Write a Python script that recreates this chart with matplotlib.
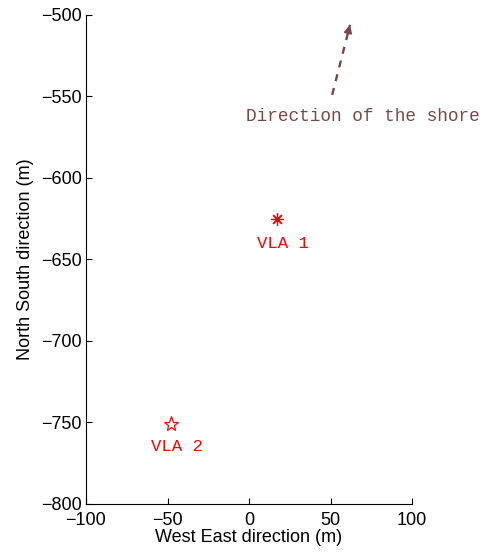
import numpy as np
import matplotlib.pyplot as plt

# positions of the two vertical line arrays (m)
vla_names = ['VLA 1', 'VLA 2']
vla_x = [17, -48]
vla_y = [-625, -751]

# shore direction arrow (start -> tip)
arrow_x = [51, 62]
arrow_y = [-549, -506]

xticks = [-100, -50, 0, 50, 100]
yticks = [-800, -750, -700, -650, -600, -550, -500]

plt.rcParams['font.family'] = ['Liberation Sans', 'DejaVu Sans']

fig = plt.figure(figsize=(4.85, 5.52), dpi=100)
ax = fig.add_axes([86/485, 1 - 504/552, (412-86)/485, (504-15)/552])

red = '#ff0000'
brown = '#7a4646'

ax.plot(vla_x[0], vla_y[0], linestyle='none', marker=(8, 2, 0), markersize=9,
        color=red, markeredgewidth=0.9)
ax.plot(vla_x[1], vla_y[1], linestyle='none', marker='*', markersize=11,
        markerfacecolor='none', markeredgecolor=red, markeredgewidth=0.9)

ax.text(vla_x[0] + 4, vla_y[0] - 15, vla_names[0], color=red,
        family='Liberation Mono', fontsize=12.5, ha='center', va='center')
ax.text(vla_x[1] + 4, vla_y[1] - 14, vla_names[1], color=red,
        family='Liberation Mono', fontsize=12.5, ha='center', va='center')

# dashed shaft + solid head
ax.plot(arrow_x, arrow_y, linestyle='--', color=brown, linewidth=1.7, dashes=(3, 3))
dx = arrow_x[1] - arrow_x[0]
dy = arrow_y[1] - arrow_y[0]
ax.annotate('', xy=(arrow_x[1], arrow_y[1]),
            xytext=(arrow_x[1] - dx * 0.12, arrow_y[1] - dy * 0.12),
            arrowprops=dict(arrowstyle='-|>', color=brown, lw=1.2,
                            mutation_scale=12, shrinkA=0, shrinkB=0))
ax.text(70, -562, 'Direction of the shore', color=brown,
        family='Liberation Mono', fontsize=12.8, ha='center', va='center')

ax.set_xlim(-100, 100)
ax.set_ylim(-800, -500)
ax.set_xticks(xticks)
ax.set_yticks(yticks)
ax.tick_params(direction='in', labelsize=13, length=4)
ax.tick_params(axis='x', pad=6)
ax.tick_params(axis='y', pad=3)
ax.spines['top'].set_visible(False)
ax.spines['right'].set_visible(False)
ax.set_xlabel('West East direction (m)', fontsize=13, labelpad=0)
ax.set_ylabel('North South direction (m)', fontsize=13, labelpad=5)

fig.savefig('out.png', dpi=100)
